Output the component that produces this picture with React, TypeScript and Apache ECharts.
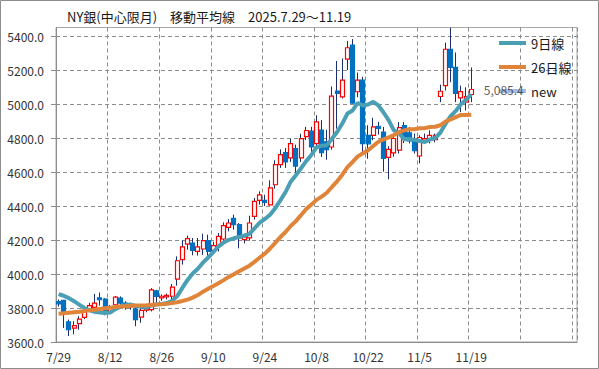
import React, { useEffect, useRef } from "react";
import * as echarts from "echarts";

const dates = [
  "7/29","7/30","7/31","8/1","8/4","8/5","8/6","8/7","8/8","8/11",
  "8/12","8/13","8/14","8/15","8/18","8/19","8/20","8/21","8/22","8/25",
  "8/26","8/27","8/28","8/29","9/2","9/3","9/4","9/5","9/8","9/9",
  "9/10","9/11","9/12","9/15","9/16","9/17","9/18","9/19","9/22","9/23",
  "9/24","9/25","9/26","9/29","9/30","10/1","10/2","10/3","10/6","10/7",
  "10/8","10/9","10/10","10/13","10/14","10/15","10/16","10/17","10/20","10/21",
  "10/22","10/23","10/24","10/27","10/28","10/29","10/30","10/31","11/3","11/4",
  "11/5","11/6","11/7","11/10","11/11","11/12","11/13","11/14","11/17","11/18",
  "11/19",
];

const opens = [
  3838,3845,3718,3682,3708,3745,3794,3804,3860,3852,
  3781,3819,3858,3829,3806,3794,3746,3788,3790,3901,
  3859,3865,3869,3970,4084,4176,4182,4133,4147,4196,
  4139,4163,4206,4274,4327,4290,4202,4212,4339,4433,
  4433,4407,4525,4643,4714,4683,4737,4683,4808,4840,
  4767,4846,4777,4747,5076,5042,5264,5347,5072,5140,
  4816,4816,4869,4834,4686,4713,4729,4873,4830,4791,
  4694,4787,4787,4790,5044,5108,5322,5215,5036,5011,
  5056,
];
const closes = [
  3824,3776,3672,3696,3735,3775,3814,3829,3849,3771,
  3804,3864,3829,3810,3819,3732,3786,3796,3907,3868,
  3869,3874,3923,4078,4159,4208,4139,4159,4196,4133,
  4167,4221,4284,4300,4290,4212,4218,4300,4427,4465,
  4421,4507,4643,4702,4659,4767,4635,4796,4844,4747,
  4895,4714,4732,5046,5062,5140,5331,5005,5140,4767,
  4766,4865,4856,4680,4733,4797,4861,4806,4783,4725,
  4803,4797,4816,4816,5075,5322,5215,5063,5073,5044,
  5085.4,
];
const lows = [
  3808,3683,3635,3645,3672,3735,3785,3790,3814,3757,
  3770,3810,3820,3790,3790,3693,3713,3775,3780,3830,
  3842,3850,3850,3931,4055,4143,4110,4108,4112,4108,
  4127,4133,4186,4251,4261,4151,4180,4196,4320,4408,
  4400,4403,4502,4624,4624,4659,4590,4659,4788,4718,
  4747,4688,4672,4731,4855,5032,5200,5003,5040,4718,
  4678,4787,4820,4602,4557,4690,4709,4770,4768,4709,
  4651,4770,4768,4775,5011,5079,5128,5011,4952,4962,
  5011,
];
const highs = [
  3850,3848,3732,3722,3752,3790,3830,3883,3891,3858,
  3818,3871,3868,3840,3830,3805,3800,3810,3917,3907,
  3880,3885,3941,4104,4198,4226,4212,4212,4237,4231,
  4190,4241,4304,4323,4349,4300,4237,4343,4447,4486,
  4466,4551,4669,4733,4741,4796,4761,4825,4866,4866,
  4934,4905,4848,5103,5253,5268,5371,5382,5185,5160,
  4875,4919,4895,4865,4752,4816,4894,4894,4865,4826,
  4816,4826,4845,4826,5114,5361,5449,5303,5108,5098,
  5215,
];

const ma9 = [
  3882,3872,3858,3840,3820,3800,3786,3778,3774,3770,
  3773,3793,3808,3816,3820,3812,3807,3802,3815,3822,
  3824,3829,3842,3870,3918,3965,4003,4031,4067,4097,
  4129,4162,4185,4201,4210,4218,4225,4236,4269,4302,
  4324,4349,4387,4433,4482,4543,4581,4622,4664,4700,
  4745,4755,4758,4796,4835,4885,4944,4962,5006,4991,
  4997,5013,4992,4950,4904,4845,4829,4792,4794,4789,
  4782,4776,4791,4800,4831,4883,4928,4959,4998,5025,
  5057,
];
const ma26 = [
  3766,3769,3772,3775,3778,3782,3786,3790,3794,3798,
  3802,3806,3809,3811,3813,3814,3815,3816,3818,3820,
  3822,3825,3829,3834,3841,3849,3861,3876,3896,3913,
  3929,3946,3964,3983,3999,4016,4032,4049,4072,4097,
  4120,4150,4183,4218,4247,4282,4311,4346,4382,4408,
  4436,4455,4478,4512,4545,4584,4629,4659,4692,4710,
  4728,4753,4778,4792,4804,4817,4834,4845,4851,4851,
  4857,4858,4865,4866,4875,4897,4909,4923,4936,4936,
  4937,
];

const lastPrice = 5085.4;
const yTicks = [3600, 3800, 4000, 4200, 4400, 4600, 4800, 5000, 5200, 5400];
const Y_MIN = 3600;
const Y_MAX = 5450;
const TOTAL_SLOTS = 101;
const TITLE = "NY銀(中心限月)　移動平均線　2025.7.29～11.19";

const FONT = '"Noto Sans CJK JP", "Noto Sans", sans-serif';
const GRID_COLOR = "#8c8c8c";
const WICK = "#1b2f6e";
const UP_BORDER = "#ff0000";
const DOWN = "#0070c0";
const TEAL = "#4a9fb4";
const ORANGE = "#e0843a";
const NEW_COLOR = "#8eaadc";

export default function App() {
  const ref = useRef<HTMLDivElement>(null);

  useEffect(() => {
    document.body.style.margin = "0";
    if (!ref.current) return;
    const chart = echarts.init(ref.current, null, { renderer: "svg" });

    const categories = [
      ...dates,
      ...Array(TOTAL_SLOTS - dates.length).fill(""),
    ];
    const wickData = dates.map((_, i) => [opens[i], closes[i], lows[i], highs[i]]);
    const bodyData = dates.map((_, i) => [
      opens[i],
      closes[i],
      Math.min(opens[i], closes[i]),
      Math.max(opens[i], closes[i]),
    ]);
    const newData = dates.map((_, i) => (i === dates.length - 1 ? lastPrice : null));

    const option: any = {
      animation: false,
      backgroundColor: "#ffffff",
      textStyle: { fontFamily: FONT },
      title: {
        text: TITLE,
        left: 62,
        top: 5,
        textStyle: { fontSize: 13, fontWeight: "normal", color: "#1a1a1a", fontFamily: FONT },
      },
      legend: {
        orient: "vertical",
        left: 499,
        top: 36.5,
        padding: 0,
        itemGap: 11,
        itemWidth: 27,
        itemHeight: 4,
        icon: "rect",
        data: ["9日線", "26日線", "new"],
        textStyle: { fontSize: 13, color: "#1a1a1a", fontFamily: FONT },
      },
      grid: {
        left: 56,
        right: 22,
        top: 27.5,
        bottom: 27,
        show: true,
        borderColor: "#a6a6a6",
        borderWidth: 1,
      },
      xAxis: {
        type: "category",
        data: categories,
        boundaryGap: true,
        axisLine: { lineStyle: { color: GRID_COLOR } },
        axisTick: { interval: 9, length: 5, lineStyle: { color: GRID_COLOR } },
        axisLabel: {
          interval: 9,
          fontSize: 12,
          color: "#333333",
          margin: 8,
          fontFamily: FONT,
        },
        splitLine: {
          show: true,
          interval: 9,
          lineStyle: { color: GRID_COLOR, type: [4, 3], width: 1 },
        },
      },
      yAxis: {
        type: "value",
        min: Y_MIN,
        max: Y_MAX,
        interval: 200,
        axisLine: { show: true, lineStyle: { color: GRID_COLOR } },
        axisTick: { show: true, length: 5, customValues: yTicks, lineStyle: { color: GRID_COLOR } },
        axisLabel: {
          customValues: yTicks,
          formatter: (v: number) => (v % 200 === 0 ? v.toFixed(1) : ""),
          margin: 12,
          fontSize: 12,
          color: "#333333",
          fontFamily: FONT,
        },
        splitLine: {
          show: true,
          lineStyle: { color: GRID_COLOR, type: [4, 3], width: 1 },
        },
      },
      graphic: [
        {
          type: "rect",
          silent: true,
          shape: { x: 0.5, y: 0.5, width: 598, height: 368 },
          style: { fill: "none", stroke: "#8c8c8c", lineWidth: 1 },
        },
      ],
      series: [
        {
          name: "wick",
          type: "candlestick",
          data: wickData,
          barWidth: 1,
          silent: true,
          z: 2,
          itemStyle: {
            color: WICK,
            color0: WICK,
            borderColor: WICK,
            borderColor0: WICK,
            borderWidth: 1,
          },
        },
        {
          name: "body",
          type: "candlestick",
          data: bodyData,
          barWidth: 4.5,
          silent: true,
          z: 3,
          itemStyle: {
            color: "#ffffff",
            color0: DOWN,
            borderColor: UP_BORDER,
            borderColor0: DOWN,
            borderWidth: 1.2,
          },
        },
        {
          name: "9日線",
          type: "line",
          data: ma9,
          symbol: "none",
          z: 5,
          lineStyle: { width: 4, color: TEAL },
          itemStyle: { color: TEAL },
        },
        {
          name: "26日線",
          type: "line",
          data: ma26,
          symbol: "none",
          z: 5,
          lineStyle: { width: 4, color: ORANGE },
          itemStyle: { color: ORANGE },
        },
        {
          name: "new",
          type: "scatter",
          data: newData,
          symbolSize: 1,
          z: 6,
          itemStyle: { color: NEW_COLOR },
          label: {
            show: true,
            position: "right",
            distance: 12,
            fontSize: 12,
            color: "#333333",
            fontFamily: FONT,
            formatter: (p: any) =>
              Number(p.value).toLocaleString("en-US", {
                minimumFractionDigits: 1,
                maximumFractionDigits: 1,
              }),
          },
        },
      ],
    };

    chart.setOption(option);
    return () => chart.dispose();
  }, []);

  return <div ref={ref} style={{ width: 599, height: 369 }} />;
}
